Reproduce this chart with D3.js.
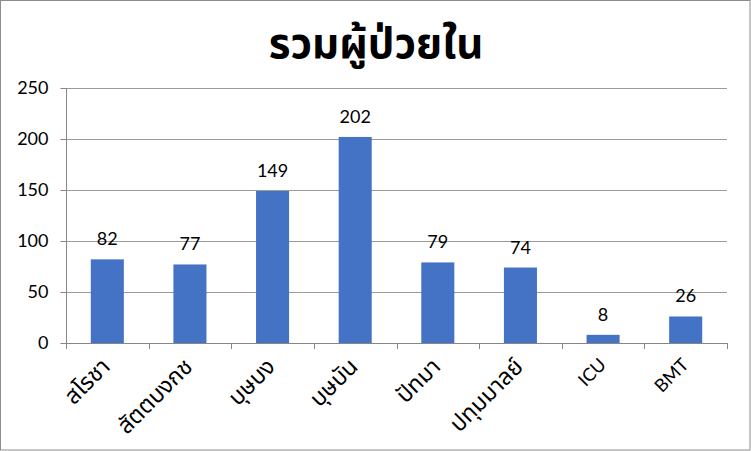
<!DOCTYPE html>
<html><head><meta charset="utf-8">
<script src="https://cdn.jsdelivr.net/npm/d3@7"></script>
<style>body{margin:0;background:#fff}svg{display:block}</style>
</head><body>
<script>
const categories = ["สโรชา","สัตตบงกช","บุษบง","บุษบัน","ปัทมา","ปทุมมาลย์","ICU","BMT"];
const values = [82,77,149,202,79,74,8,26];
const yTicks = [0,50,100,150,200,250];
const title = "รวมผู้ป่วยใน";

const W=751,H=451;
const svg=d3.select("body").append("svg").attr("width",W).attr("height",H);
svg.append("rect").attr("x",0.5).attr("y",0.5).attr("width",W-1.5).attr("height",H-1.5).attr("fill","#fff").attr("stroke","#8c8c8c");
const font="Lato, 'Noto Sans', 'Noto Sans Thai', sans-serif";
const x=d3.scaleBand().domain(categories).range([66,727]).paddingInner(0.6).paddingOuter(0.3);
const y=d3.scaleLinear().domain([0,250]).range([343,88]);

svg.append("g").selectAll("line").data(yTicks.slice(1)).join("line")
  .attr("x1",66).attr("x2",727).attr("y1",d=>Math.round(y(d))+0.5).attr("y2",d=>Math.round(y(d))+0.5).attr("stroke","#9a9a9a");

const ya=svg.append("g").attr("transform","translate(66.5,0)").call(d3.axisLeft(y).tickValues(yTicks).tickSize(6).tickPadding(12));
ya.select(".domain").attr("stroke","#868686").attr("d","M0,"+y(250)+"V"+(y(0)));
ya.selectAll(".tick line").attr("stroke","#868686");
ya.selectAll("text").attr("font-family",font).attr("font-size",18).attr("fill","#000");

svg.append("g").selectAll("rect").data(values).join("rect")
  .attr("x",(d,i)=>x(categories[i])).attr("width",x.bandwidth())
  .attr("y",d=>y(d)).attr("height",d=>y(0)-y(d)).attr("fill","#4472c4");

svg.append("g").selectAll("text").data(values).join("text")
  .attr("x",(d,i)=>x(categories[i])+x.bandwidth()/2).attr("y",d=>y(d)-14)
  .attr("text-anchor","middle").attr("font-family",font).attr("font-size",18).attr("fill","#000").text(d=>d);

const step=x.step();
const edges=d3.range(categories.length+1).map(i=>66+i*step);
svg.append("line").attr("x1",66).attr("x2",727).attr("y1",343.5).attr("y2",343.5).attr("stroke","#868686");
svg.append("g").selectAll("line").data(edges).join("line")
  .attr("x1",d=>Math.round(d)+0.5).attr("x2",d=>Math.round(d)+0.5).attr("y1",343).attr("y2",349).attr("stroke","#868686");

const isThai=s=>/[\u0E00-\u0E7F]/.test(s);
svg.append("g").selectAll("text").data(categories).join("text")
  .attr("transform",d=>`translate(${x(d)+x.bandwidth()/2+4},${isThai(d)?368:366}) rotate(-45)`)
  .attr("text-anchor","end").attr("font-family",font).attr("font-size",d=>isThai(d)?23:18).attr("fill","#000").text(d=>d);

svg.append("text").attr("x",376).attr("y",58).attr("text-anchor","middle")
  .attr("font-family",font).attr("font-weight","bold").attr("font-size",42).attr("fill","#000").text(title);
</script>
</body></html>
